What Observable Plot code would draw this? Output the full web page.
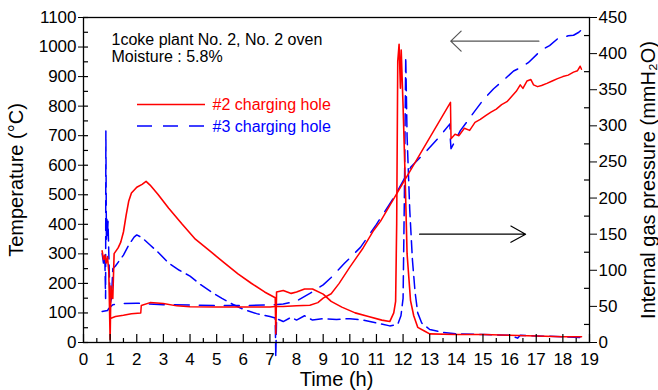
<!DOCTYPE html>
<html>
<head>
<meta charset="utf-8">
<script src="https://cdn.jsdelivr.net/npm/d3@7"></script>
<script src="https://cdn.jsdelivr.net/npm/@observablehq/plot@0.6"></script>
<style>
  body { margin: 0; background: #fff; }
  svg { font-family: Arial, "Liberation Sans", sans-serif; }
</style>
</head>
<body>
<div id="chart"></div>
<script>
// ---- Data ----
// Temperature, #2 charging hole (°C)
const tRedT = [1.03,1.2,1.5,1.8,2.15,2.17,2.5,3.0,3.5,4.0,5.0,6.0,7.0,7.2,7.5,8.0,8.5,8.8,9.0,9.3,9.6,10.0,10.5,10.9,11.15,13.78,13.8,13.95,14.1,14.3,14.5,14.7,14.9,15.1,15.3,15.5,15.7,15.9,16.1,16.25,16.4,16.5,16.65,16.8,16.9,17.05,17.2,17.4,17.6,17.8,18.0,18.2,18.4,18.55,18.65,18.7];
const redT  = [82,88,92,97,100,125,135,132,124,121,120,120,120,122,122,124,126,135,150,165,200,255,320,380,410,813,690,705,700,725,718,745,755,768,780,790,805,815,835,850,872,860,885,890,872,866,870,877,885,893,900,905,915,920,935,925];
// Temperature, #3 charging hole (°C)
const tBlueT = [0.7,0.9,0.95,1.1,1.5,2.0,3.0,4.0,5.0,6.0,7.0,7.5,8.0,8.5,9.0,9.3,9.8,10.4,11.0,11.65,12.3,12.9,13.4,13.76,13.77,13.8,14.15,14.65,15.0,15.4,15.8,16.15,16.4,16.7,17.17,17.5,17.8,18.2,18.4,18.6,18.7];
const blueT  = [105,108,115,128,132,133,128,127,125,125,127,130,140,166,195,220,268,322,400,490,595,650,700,740,695,656,717,778,820,859,890,919,930,947,988,1005,1028,1038,1040,1050,1058];
// Internal gas pressure, #2 charging hole (mmH2O)
const tRedP = [0.7,0.75,0.8,0.85,0.9,0.95,1.0,1.03,1.07,1.1,1.15,1.3,1.4,1.5,1.6,1.7,1.8,2.0,2.2,2.35,2.5,2.8,3.2,3.7,4.2,4.8,5.3,5.8,6.3,6.8,7.2,7.22,7.25,7.5,7.8,8.0,8.3,8.6,9.0,9.3,9.7,10.2,10.7,11.2,11.5,11.65,11.72,11.76,11.8,11.85,11.9,11.93,12.0,12.08,12.15,12.28,12.4,12.55,12.8,13.0,14.0,15.0,16.0,17.0,18.0,18.7];
const redP  = [127,115,121,110,119,98,4,78,65,61,123,131,139,153,176,196,207,215,219,223,218,205,186,164,143,125,110,95,82,70,62,12,70,72,68,70,74,74,67,57,49,41,36,31,29,41,57,164,389,413,352,405,327,225,123,58,37,21,16,12,11,11,10,9,8,8];
// Internal gas pressure, #3 charging hole (mmH2O)
const tBlueP = [0.7,0.75,0.8,0.83,0.84,0.86,0.88,0.9,0.92,0.95,0.98,1.0,1.05,1.1,1.2,1.3,1.5,1.7,1.9,2.0,2.2,2.5,2.8,3.2,3.6,4.0,4.4,4.8,5.2,5.6,6.0,6.5,7.0,7.2,7.22,7.25,7.5,7.8,8.0,8.3,8.6,9.0,9.5,10.0,10.5,11.0,11.5,11.8,11.92,12.0,12.05,12.1,12.15,12.25,12.35,12.45,12.55,12.7,13.0,13.5,14,15,16,16.3,16.4,17,18,18.7];
const blueP  = [123,110,119,61,293,143,172,147,168,123,82,53,61,102,106,111,121,135,146,149,145,135,125,110,100,92,80,70,61,53,46,40,36,34,-20,33,29,35,31,37,31,33,32,33,31,27,23,25,37,61,205,395,286,184,115,70,41,27,18,14,12,11,10,6,10,9,8,7];

// Axes ticks
const xTicks = d3.range(0, 20, 1);
const xMinor = d3.range(0.5, 19, 1);
const tempTicks = d3.range(0, 1101, 100);
const tempMinor = d3.range(50, 1100, 100);
const pressTicks = d3.range(0, 451, 50);
const pressMinor = d3.range(25, 450, 50);

// Annotation arrows
const arrowTemp = [{x1: 17.1, x2: 13.79, temp: 1020}];
const arrowPress = [{x1: 12.62, x2: 16.6, press: 150}];

// ---- Build ----
const K = 1100 / 450; // mmH2O -> °C scale position
const zip = (ts, vs) => ts.map((t, i) => ({t, v: vs[i]}));
const redTData = zip(tRedT, redT);
const blueTData = zip(tBlueT, blueT);
const redPData = zip(tRedP, redP);
const bluePData = zip(tBlueP, blueP);

const W = 658, H = 390, mL = 83, mR = 69, mT = 17, mB = 48;
const innerW = W - mL - mR, innerH = H - mT - mB;
const txt = (s, o) => Plot.text([s], {textAnchor: "middle", lineAnchor: "middle", ...o});

const chart = Plot.plot({
  width: W, height: H,
  marginLeft: mL, marginRight: mR, marginTop: mT, marginBottom: mB,
  style: {fontFamily: 'Arial, "Liberation Sans", sans-serif', fontSize: "17px", color: "black", background: "white"},
  x: {domain: [0, 19]},
  y: {domain: [0, 1100]},
  marks: [
    Plot.line(bluePData, {x: "t", y: d => d.v * K, stroke: "#0000ff", strokeWidth: 1.5, strokeDasharray: "12,6"}),
    Plot.line(blueTData, {x: "t", y: "v", stroke: "#0000ff", strokeWidth: 1.5, strokeDasharray: "15,10"}),
    Plot.line(redPData, {x: "t", y: d => d.v * K, stroke: "#ff0000", strokeWidth: 1.6}),
    Plot.line(redTData, {x: "t", y: "v", stroke: "#ff0000", strokeWidth: 1.5}),
    Plot.frame({stroke: "black", strokeWidth: 1.3}),
    // x axis: labels + inward ticks
    Plot.axisX({ticks: xTicks, tickSize: 0, tickPadding: 10, label: null, tickFormat: d => String(d)}),
    Plot.tickX(xTicks, {x: d => d, insetTop: innerH - 8, stroke: "black", strokeWidth: 1.2}),
    Plot.tickX(xMinor, {x: d => d, insetTop: innerH - 4, stroke: "black", strokeWidth: 1.2}),
    // left axis
    Plot.axisY({anchor: "left", ticks: tempTicks, tickSize: 5, tickPadding: 2, label: null, tickFormat: d => String(d)}),
    Plot.tickY(tempTicks, {y: d => d, insetRight: innerW - 5, stroke: "black", strokeWidth: 1.2}),
    Plot.tickY(tempMinor, {y: d => d, insetRight: innerW - 5, stroke: "black", strokeWidth: 1.2}),
    // right axis (pressure)
    Plot.axisY({anchor: "right", ticks: pressTicks.map(p => p * K), tickSize: 7, tickPadding: 2, label: null, tickFormat: d => String(Math.round(d / K))}),
    Plot.tickY(pressMinor.map(p => p * K), {y: d => d, insetLeft: innerW - 5, stroke: "black", strokeWidth: 1.2}),
    // arrows
    Plot.arrow(arrowTemp, {x1: "x1", x2: "x2", y1: "temp", y2: "temp", stroke: "#555", strokeWidth: 1.2, headLength: 18, headAngle: 88}),
    Plot.arrow(arrowPress, {x1: "x1", x2: "x2", y1: d => d.press * K, y2: d => d.press * K, stroke: "black", strokeWidth: 1.2, headLength: 21, headAngle: 58}),
    // annotations
    txt("1coke plant No. 2, No. 2 oven", {frameAnchor: "top-left", dx: 28, dy: 22, textAnchor: "start", fontSize: 16}),
    txt("Moisture : 5.8%", {frameAnchor: "top-left", dx: 28, dy: 39, textAnchor: "start", fontSize: 16}),
    txt("#2 charging hole", {frameAnchor: "top-left", dx: 129, dy: 87, textAnchor: "start", fontSize: 16, fill: "#ff0000"}),
    txt("#3 charging hole", {frameAnchor: "top-left", dx: 129, dy: 109, textAnchor: "start", fontSize: 16, fill: "#0000ff"}),
    // axis titles
    txt("Temperature (°C)", {frameAnchor: "left", dx: -67, rotate: -90, fontSize: 20}),
    txt("Time (h)", {frameAnchor: "bottom", dy: 37, fontSize: 20}),
    txt("Internal gas pressure (mmH₂O)", {frameAnchor: "right", dx: 59, rotate: -90, fontSize: 20})
  ]
});

// legend samples
const svg = d3.select(chart);
svg.append("line").attr("x1", 137).attr("x2", 205).attr("y1", 104.5).attr("y2", 104.5)
  .attr("stroke", "#ff0000").attr("stroke-width", 1.5);
svg.append("line").attr("x1", 137).attr("x2", 205).attr("y1", 126).attr("y2", 126)
  .attr("stroke", "#0000ff").attr("stroke-width", 1.5).attr("stroke-dasharray", "15,11");

document.getElementById("chart").appendChild(chart);
</script>
</body>
</html>
